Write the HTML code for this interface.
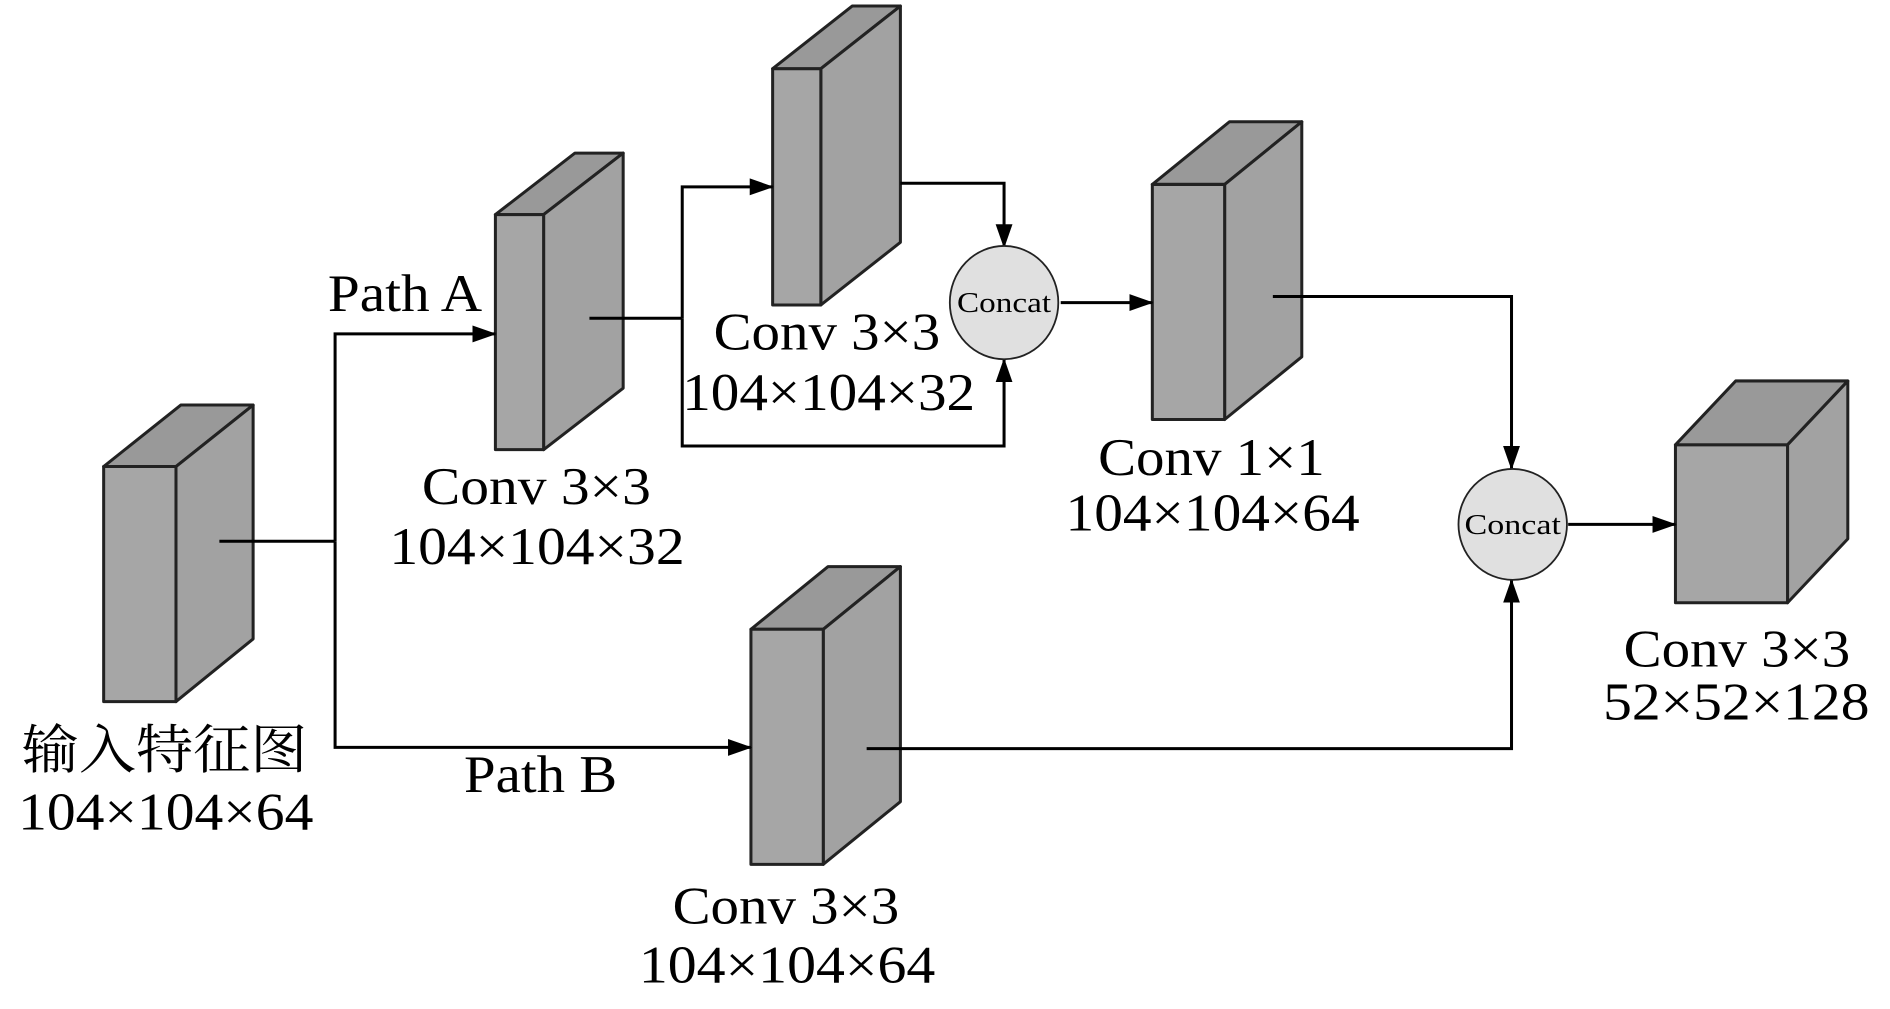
<!DOCTYPE html>
<html><head><meta charset="utf-8"><style>html,body{margin:0;padding:0;background:#fff;}svg{display:block;}</style></head>
<body>
<svg width="1890" height="1009" viewBox="0 0 1568 837" preserveAspectRatio="none" xmlns="http://www.w3.org/2000/svg">
<defs>
<marker id="a" markerWidth="10" markerHeight="10" refX="9" refY="5" orient="auto" markerUnits="userSpaceOnUse" viewBox="0 0 10 10">
<path d="M0,0 L10,5 L0,10 z" fill="#000"/></marker>
<marker id="b" markerWidth="20" markerHeight="20" refX="19" refY="10" orient="auto" markerUnits="userSpaceOnUse" viewBox="0 0 20 20">
<path d="M0,3 L20,10 L0,17 z" fill="#000"/></marker>
</defs>
<g stroke="#222" stroke-width="2.5" stroke-linejoin="round">
<!-- block1 -->
<polygon points="86,387 146,387 210,336 150,336" fill="#999"/>
<polygon points="146,387 210,336 210,530 146,582" fill="#a2a2a2"/>
<rect x="86" y="387" width="60" height="195" fill="#a6a6a6"/>
<!-- block2 -->
<polygon points="411,178 451,178 517,127 477,127" fill="#999"/>
<polygon points="451,178 517,127 517,322 451,373" fill="#a2a2a2"/>
<rect x="411" y="178" width="40" height="195" fill="#a6a6a6"/>
<!-- block3 -->
<polygon points="641,57 681,57 747,5 707,5" fill="#999"/>
<polygon points="681,57 747,5 747,201 681,253" fill="#a2a2a2"/>
<rect x="641" y="57" width="40" height="196" fill="#a6a6a6"/>
<!-- block4 -->
<polygon points="956,153 1016,153 1080,101 1020,101" fill="#999"/>
<polygon points="1016,153 1080,101 1080,296 1016,348" fill="#a2a2a2"/>
<rect x="956" y="153" width="60" height="195" fill="#a6a6a6"/>
<!-- block5 -->
<polygon points="623,522 683,522 747,470 687,470" fill="#999"/>
<polygon points="683,522 747,470 747,665 683,717" fill="#a2a2a2"/>
<rect x="623" y="522" width="60" height="195" fill="#a6a6a6"/>
<!-- block6 -->
<polygon points="1390,369 1483,369 1533,316 1440,316" fill="#999"/>
<polygon points="1483,369 1533,316 1533,447 1483,500" fill="#a2a2a2"/>
<rect x="1390" y="369" width="93" height="131" fill="#a6a6a6"/>
</g>
<g stroke="#000" stroke-width="2.5" fill="none">
<polyline points="182,449 278,449"/>
<polyline points="278,449 278,277 411,277" marker-end="url(#b)"/>
<polyline points="278,449 278,620 623,620" marker-end="url(#b)"/>
<polyline points="489,264 566,264"/>
<polyline points="566,264 566,155 641,155" marker-end="url(#b)"/>
<polyline points="566,264 566,370 833,370 833,298" marker-end="url(#b)"/>
<polyline points="747,152 833,152 833,205" marker-end="url(#b)"/>
<polyline points="880,251 956,251" marker-end="url(#b)"/>
<polyline points="1056,246 1254,246 1254,389" marker-end="url(#b)"/>
<polyline points="719,621 1254,621 1254,481" marker-end="url(#b)"/>
<polyline points="1301,435 1390,435" marker-end="url(#b)"/>
</g>
<ellipse cx="833" cy="251" rx="45" ry="47" fill="#e0e0e0" stroke="#222" stroke-width="1.5"/>
<ellipse cx="1255" cy="435" rx="45" ry="46" fill="#e0e0e0" stroke="#222" stroke-width="1.5"/>
<g font-family="'Liberation Serif', serif" fill="#000">
<text x="833" y="259" font-size="24" text-anchor="middle" textLength="78" lengthAdjust="spacingAndGlyphs">Concat</text>
<text x="1255" y="443" font-size="24" text-anchor="middle" textLength="80" lengthAdjust="spacingAndGlyphs">Concat</text>
<g font-size="44">
<text x="272" y="258" textLength="128" lengthAdjust="spacingAndGlyphs">Path A</text>
<text x="385" y="657" textLength="127" lengthAdjust="spacingAndGlyphs">Path B</text>
<text x="350" y="418" textLength="190" lengthAdjust="spacingAndGlyphs">Conv 3×3</text>
<text x="323" y="468" textLength="245" lengthAdjust="spacingAndGlyphs">104×104×32</text>
<text x="592" y="290" textLength="188" lengthAdjust="spacingAndGlyphs">Conv 3×3</text>
<text x="566" y="340" textLength="243" lengthAdjust="spacingAndGlyphs">104×104×32</text>
<text x="911" y="394" textLength="188" lengthAdjust="spacingAndGlyphs">Conv 1×1</text>
<text x="884" y="440" textLength="244" lengthAdjust="spacingAndGlyphs">104×104×64</text>
<text x="1347" y="553" textLength="188" lengthAdjust="spacingAndGlyphs">Conv 3×3</text>
<text x="1330" y="597" textLength="221" lengthAdjust="spacingAndGlyphs">52×52×128</text>
<text x="15" y="688" textLength="245" lengthAdjust="spacingAndGlyphs">104×104×64</text>
<text x="558" y="766" textLength="188" lengthAdjust="spacingAndGlyphs">Conv 3×3</text>
<text x="530" y="815" textLength="246" lengthAdjust="spacingAndGlyphs">104×104×64</text>
<text x="18" y="637" font-family="'Liberation Serif','Noto Serif CJK SC',serif" textLength="237" lengthAdjust="spacingAndGlyphs">输入特征图</text>
</g>
</g>
</svg>
</body></html>
